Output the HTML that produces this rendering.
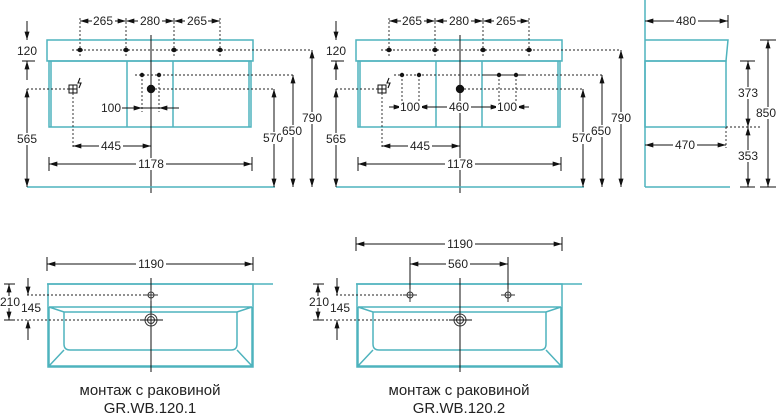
<!DOCTYPE html>
<html><head><meta charset="utf-8"><style>
html,body{margin:0;padding:0;background:#fff}
svg{display:block}
text{font-family:"Liberation Sans","DejaVu Sans",sans-serif;font-size:12px;fill:#222}
.c{stroke:#4fb3bd;fill:none;stroke-width:1.5}
.k{stroke:#111;fill:none;stroke-width:1}
.d{stroke:#222;fill:none;stroke-width:0.9;stroke-dasharray:2 2}
.t{text-anchor:middle}
</style></head><body>
<svg width="777" height="415" viewBox="0 0 777 415" xmlns="http://www.w3.org/2000/svg">
<defs>
<marker id="a" viewBox="0 0 10 6" refX="10" refY="3" markerWidth="10" markerHeight="5" orient="auto-start-reverse" markerUnits="userSpaceOnUse"><path d="M0,0L10,3L0,6z" fill="#111"/></marker>
<g id="top">
  <rect class="c" x="47" y="40" width="206" height="21"/>
  <rect class="c" x="49" y="61" width="202" height="66"/>
  <line class="c" x1="51" y1="61" x2="51" y2="127"/>
  <line class="c" x1="249" y1="61" x2="249" y2="127"/>
  <line class="c" x1="127" y1="61" x2="127" y2="127"/>
  <line class="c" x1="173" y1="61" x2="173" y2="127"/>
  <line class="d" x1="72" y1="50" x2="312" y2="50"/>
  <g class="d"><line x1="80" y1="18" x2="80" y2="58"/><line x1="126" y1="18" x2="126" y2="58"/><line x1="174" y1="18" x2="174" y2="58"/><line x1="220" y1="18" x2="220" y2="58"/></g>
  <g fill="#111"><ellipse cx="80" cy="50" rx="2.8" ry="2.2"/><ellipse cx="126" cy="50" rx="2.8" ry="2.2"/><ellipse cx="174" cy="50" rx="2.8" ry="2.2"/><ellipse cx="220" cy="50" rx="2.8" ry="2.2"/></g>
  <g class="k"><line x1="80" y1="21" x2="126" y2="21" marker-start="url(#a)" marker-end="url(#a)"/><line x1="126" y1="21" x2="174" y2="21" marker-start="url(#a)" marker-end="url(#a)"/><line x1="174" y1="21" x2="220" y2="21" marker-start="url(#a)" marker-end="url(#a)"/></g>
  <g fill="#fff"><rect x="92" y="15" width="23" height="12"/><rect x="138" y="15" width="24" height="12"/><rect x="185" y="15" width="23" height="12"/></g>
  <text class="t" x="103" y="25">265</text><text class="t" x="150" y="25">280</text><text class="t" x="197" y="25">265</text>
  <line class="k" x1="151" y1="35" x2="151" y2="193" stroke-width="1.2"/>
  <rect x="69" y="85" width="8" height="8" fill="#fff" stroke="#111" stroke-width="1"/>
  <line class="k" x1="73" y1="85" x2="73" y2="93"/><line class="k" x1="69" y1="89" x2="77" y2="89"/>
  <path d="M80,78 L78,83 L81,83 L79,88" stroke="#111" fill="none" stroke-width="1.1"/>
  <line class="d" x1="27" y1="89" x2="69" y2="89"/>
  <line class="d" x1="73" y1="93" x2="73" y2="148"/>
  <circle cx="151" cy="89" r="4.2" fill="#111"/>
  <line class="d" x1="155" y1="89" x2="275" y2="89"/>
  <line class="k" x1="73" y1="146" x2="151" y2="146" marker-start="url(#a)" marker-end="url(#a)"/>
  <rect x="99" y="140" width="24" height="12" fill="#fff"/><text class="t" x="111" y="150">445</text>
  <line class="k" x1="49" y1="164" x2="252" y2="164" marker-start="url(#a)" marker-end="url(#a)"/>
  <line class="k" x1="49" y1="157" x2="49" y2="171"/><line class="k" x1="252" y1="157" x2="252" y2="171"/>
  <rect x="136" y="158" width="30" height="12" fill="#fff"/><text class="t" x="151" y="168">1178</text>
  <line class="c" x1="27" y1="187" x2="275" y2="187"/>
  <line class="k" x1="27" y1="21" x2="27" y2="40" marker-end="url(#a)"/>
  <line class="k" x1="27" y1="80" x2="27" y2="61" marker-end="url(#a)"/>
  <line class="k" x1="22" y1="61" x2="35" y2="61"/>
  <text class="t" x="27" y="55">120</text>
  <line class="k" x1="27" y1="89" x2="27" y2="187" marker-start="url(#a)" marker-end="url(#a)"/>
  <rect x="15" y="133" width="24" height="12" fill="#fff"/><text class="t" x="27" y="143">565</text>
  <line class="k" x1="274" y1="89" x2="274" y2="187" marker-start="url(#a)" marker-end="url(#a)"/>
  <rect x="262" y="132" width="24" height="12" fill="#fff"/><text class="t" x="273" y="142">570</text>
  <line class="d" x1="175" y1="75" x2="293" y2="75"/>
  <line class="k" x1="293" y1="75" x2="293" y2="187" marker-start="url(#a)" marker-end="url(#a)"/>
  <rect x="281" y="125" width="24" height="12" fill="#fff"/><text class="t" x="292" y="135">650</text>
  <line class="k" x1="312" y1="50" x2="312" y2="187" marker-start="url(#a)" marker-end="url(#a)"/>
  <rect x="300" y="112" width="24" height="12" fill="#fff"/><text class="t" x="312" y="122">790</text>
</g>
<g id="basin">
  <line class="c" x1="47" y1="284" x2="273" y2="284"/>
  <rect class="c" x="48" y="284" width="205" height="83" stroke-width="1.2"/>
  <path class="c" stroke-width="1.2" d="M49,307 L252,307 M49,307 L49,366 L252,366 L252,307 M49,307 L64,312 L237,312 L252,307 M64,312 L64,344 Q64,350 70,350 L231,350 Q237,350 237,344 L237,312 M64,350 L49,366 M237,350 L252,366"/>
  <line class="d" x1="9" y1="320" x2="150" y2="320"/>
  <line class="k" x1="151" y1="278" x2="151" y2="372" stroke-width="1.2"/>
  <circle cx="151" cy="320" r="6" fill="none" stroke="#333" stroke-width="1"/>
  <circle cx="151" cy="320" r="3.5" fill="none" stroke="#333" stroke-width="1"/>
  <line class="k" x1="140" y1="320" x2="163" y2="320"/>
  <line class="k" x1="4" y1="284" x2="15" y2="284"/><line class="k" x1="4" y1="320" x2="15" y2="320"/>
  <line class="k" x1="9" y1="284" x2="9" y2="320" marker-start="url(#a)" marker-end="url(#a)"/>
  <rect x="0" y="296" width="21" height="12" fill="#fff"/><text x="0" y="306">210</text>
  <line class="k" x1="28" y1="278" x2="28" y2="295" marker-end="url(#a)"/>
  <line class="k" x1="28" y1="340" x2="28" y2="320" marker-end="url(#a)"/>
  <text class="t" x="31" y="312">145</text>
</g>
</defs>

<use href="#top"/>
<g fill="#111"><circle cx="142" cy="75" r="2.2"/><circle cx="159" cy="75" r="2.2"/></g>
<line class="d" x1="135" y1="75" x2="175" y2="75"/>
<g class="d"><line x1="142" y1="75" x2="142" y2="112"/><line x1="159" y1="75" x2="159" y2="112"/></g>
<line class="k" x1="122" y1="108" x2="142" y2="108" marker-end="url(#a)"/>
<line class="k" x1="179" y1="108" x2="159" y2="108" marker-end="url(#a)"/>
<line class="k" x1="142" y1="108" x2="159" y2="108"/>
<text class="t" x="111" y="112">100</text>

<g transform="translate(309,0)">
<use href="#top"/>
<line class="d" x1="85" y1="75" x2="215" y2="75"/>
<g fill="#111"><circle cx="93" cy="75" r="2.2"/><circle cx="110" cy="75" r="2.2"/><circle cx="190" cy="75" r="2.2"/><circle cx="207" cy="75" r="2.2"/></g>
<g class="d"><line x1="93" y1="75" x2="93" y2="111"/><line x1="110" y1="75" x2="110" y2="111"/><line x1="190" y1="75" x2="190" y2="111"/><line x1="207" y1="75" x2="207" y2="111"/></g>
<line class="k" x1="80" y1="107" x2="93" y2="107" marker-end="url(#a)"/>
<line class="k" x1="110" y1="107" x2="190" y2="107" marker-start="url(#a)" marker-end="url(#a)"/>
<line class="k" x1="220" y1="107" x2="207" y2="107" marker-end="url(#a)"/>
<g fill="#fff"><rect x="90" y="101" width="23" height="12"/><rect x="138" y="101" width="24" height="12"/><rect x="187" y="101" width="23" height="12"/></g>
<text class="t" x="101" y="111">100</text><text class="t" x="150" y="111">460</text><text class="t" x="198" y="111">100</text>
</g>

<line class="c" x1="645" y1="0" x2="645" y2="187"/>
<path class="c" d="M645,40 L728,40 L726,61 L645,61"/>
<rect class="c" x="645" y="61" width="81" height="66"/>
<line class="c" x1="645" y1="187" x2="730" y2="187"/>
<line class="k" x1="645" y1="21" x2="728" y2="21" marker-start="url(#a)" marker-end="url(#a)"/>
<line class="k" x1="728" y1="15" x2="728" y2="28"/>
<rect x="674" y="15" width="24" height="12" fill="#fff"/><text class="t" x="686" y="25">480</text>
<line class="k" x1="645" y1="145" x2="726" y2="145" marker-start="url(#a)" marker-end="url(#a)"/>
<line class="d" x1="726" y1="127" x2="726" y2="148"/>
<rect x="673" y="139" width="24" height="12" fill="#fff"/><text class="t" x="685" y="149">470</text>
<line class="d" x1="726" y1="127" x2="760" y2="127"/>
<line class="k" x1="740" y1="61" x2="755" y2="61"/>
<line class="k" x1="740" y1="187" x2="755" y2="187"/>
<line class="k" x1="748" y1="61" x2="748" y2="127" marker-start="url(#a)" marker-end="url(#a)"/>
<line class="k" x1="748" y1="127" x2="748" y2="187" marker-start="url(#a)" marker-end="url(#a)"/>
<rect x="736" y="87" width="24" height="12" fill="#fff"/><text class="t" x="748" y="97">373</text>
<rect x="736" y="150" width="24" height="12" fill="#fff"/><text class="t" x="748" y="160">353</text>
<line class="k" x1="760" y1="40" x2="776" y2="40"/>
<line class="k" x1="760" y1="187" x2="776" y2="187"/>
<line class="k" x1="768" y1="40" x2="768" y2="187" marker-start="url(#a)" marker-end="url(#a)"/>
<rect x="756" y="107" width="21" height="12" fill="#fff"/><text class="t" x="766" y="117">850</text>

<use href="#basin"/>
<line class="k" x1="47" y1="264" x2="253" y2="264" marker-start="url(#a)" marker-end="url(#a)"/>
<line class="k" x1="47" y1="257" x2="47" y2="271"/><line class="k" x1="253" y1="257" x2="253" y2="271"/>
<rect x="136" y="258" width="30" height="12" fill="#fff"/><text class="t" x="151" y="268">1190</text>
<line class="d" x1="27" y1="295" x2="146" y2="295"/>
<g stroke="#333" stroke-width="1" fill="none"><circle cx="151" cy="295" r="3"/><line x1="144" y1="295" x2="158" y2="295"/><line x1="151" y1="290" x2="151" y2="301"/></g>
<text class="t" x="150" y="395" style="font-size:15px">монтаж с раковиной</text>
<text class="t" x="150" y="413" style="font-size:15px">GR.WB.120.1</text>

<g transform="translate(309,0)">
<use href="#basin"/>
<line class="k" x1="47" y1="244" x2="253" y2="244" marker-start="url(#a)" marker-end="url(#a)"/>
<line class="k" x1="47" y1="237" x2="47" y2="251"/><line class="k" x1="253" y1="237" x2="253" y2="251"/>
<rect x="136" y="238" width="30" height="12" fill="#fff"/><text class="t" x="151" y="248">1190</text>
<line class="k" x1="101" y1="264" x2="199" y2="264" marker-start="url(#a)" marker-end="url(#a)"/>
<line class="k" x1="101" y1="257" x2="101" y2="298"/><line class="k" x1="199" y1="257" x2="199" y2="298"/>
<rect x="137" y="258" width="24" height="12" fill="#fff"/><text class="t" x="149" y="268">560</text>
<line class="d" x1="27" y1="295" x2="95" y2="295"/>
<g stroke="#333" stroke-width="1" fill="none"><circle cx="101" cy="295" r="3"/><line x1="94" y1="295" x2="108" y2="295"/><line x1="101" y1="289" x2="101" y2="302"/><circle cx="199" cy="295" r="3"/><line x1="192" y1="295" x2="206" y2="295"/><line x1="199" y1="289" x2="199" y2="302"/></g>
<text class="t" x="150" y="395" style="font-size:15px">монтаж с раковиной</text>
<text class="t" x="150" y="413" style="font-size:15px">GR.WB.120.2</text>
</g>
</svg>
</body></html>
